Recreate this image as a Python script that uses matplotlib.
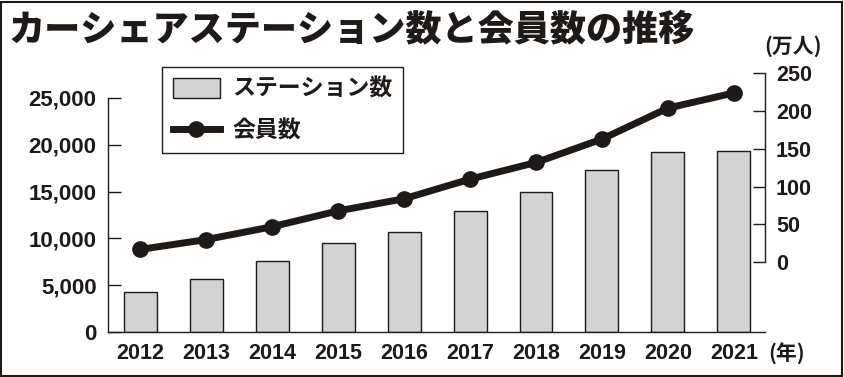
import numpy as np
import matplotlib
matplotlib.use("Agg")
import matplotlib.pyplot as plt
from matplotlib import font_manager as fm
from matplotlib.patches import Patch, Rectangle
from matplotlib.lines import Line2D

# ---- data ----
years = ["2012", "2013", "2014", "2015", "2016", "2017", "2018", "2019", "2020", "2021"]
stations = [4300, 5650, 7570, 9490, 10720, 12900, 14920, 17300, 19220, 19330]
members = [17, 30, 47, 68, 84, 110, 132, 163, 204, 224]
left_ticks = [0, 5000, 10000, 15000, 20000, 25000]
left_labels = ["0", "5,000", "10,000", "15,000", "20,000", "25,000"]
right_ticks = [0, 50, 100, 150, 200, 250]
right_labels = ["0", "50", "100", "150", "200", "250"]
title = "カーシェアステーション数と会員数の推移"
legend_labels = ["ステーション数", "会員数"]
right_unit = "(万人)"
x_unit = "(年)"


def has_font(name):
    try:
        fm.findfont(fm.FontProperties(family=name), fallback_to_default=False)
        return True
    except Exception:
        return False


if has_font("Liberation Sans Narrow"):
    NUM = ["Liberation Sans Narrow", "DejaVu Sans"]
    left_size, right_size, yr_size = 18, 18, 18.5
else:
    NUM = ["Liberation Sans", "DejaVu Sans"]
    left_size, right_size, yr_size = 16, 15.5, 15.5

CJK = ["Noto Sans CJK JP", "DejaVu Sans"]
INK = "#1e1a18"
BAR = "#d3d3d3"

fig = plt.figure(figsize=(8.45, 3.77), dpi=100)
ax = fig.add_axes([0.1275, 0.1186, 0.7778, 0.6870])
ax2 = ax.twinx()

x = np.arange(len(years))
ax.bar(x, stations, width=0.5, color=BAR, edgecolor=INK, linewidth=1.0, zorder=2)
ax2.plot(x, members, color=INK, lw=5, marker="o", ms=11, zorder=3)

ax.set_xlim(-0.49, 9.47)
ax.set_ylim(0, 27601)
ax2.set_ylim(-92.6, 250)

for s in ["top", "right"]:
    ax.spines[s].set_visible(False)
for s in ["top", "left", "bottom"]:
    ax2.spines[s].set_visible(False)
ax.spines["left"].set_bounds(0, 25000)
ax2.spines["right"].set_bounds(0, 250)
for sp in [ax.spines["left"], ax.spines["bottom"], ax2.spines["right"]]:
    sp.set_color(INK)
    sp.set_linewidth(1.0)

ax.set_xticks(x)
ax.set_xticklabels(years, fontfamily=NUM, fontweight="bold", fontsize=yr_size, color=INK)
ax.tick_params(axis="x", length=0, pad=8)

ax.set_yticks(left_ticks)
ax.set_yticklabels(left_labels, fontfamily=NUM, fontweight="bold", fontsize=left_size, color=INK)
ax.tick_params(axis="y", direction="in", length=9, width=1, color=INK, pad=8)

ax2.set_yticks(right_ticks)
ax2.set_yticklabels(right_labels, fontfamily=NUM, fontweight="bold", fontsize=right_size, color=INK)
ax2.tick_params(axis="y", direction="in", length=9, width=1, color=INK, pad=8)

handles = [
    Patch(facecolor=BAR, edgecolor=INK, linewidth=1.0),
    Line2D([], [], color=INK, lw=5, marker="o", ms=11),
]
leg = fig.legend(
    handles, legend_labels, loc="upper left",
    bbox_to_anchor=(0.1921, 0.8215), bbox_transform=fig.transFigure,
    frameon=True, fancybox=False, framealpha=1, edgecolor=INK,
    borderpad=0.45, borderaxespad=0, handlelength=2.05, handleheight=1.0,
    handletextpad=0.55, labelspacing=0.82, numpoints=1,
    prop=fm.FontProperties(family=CJK, weight="bold", size=16.5),
)
leg.get_frame().set_linewidth(1.0)
for t in leg.get_texts():
    t.set_color(INK)

fig.text(0.010, 1 - 29 / 377, title, ha="left", va="center",
         fontfamily=CJK, fontweight="heavy", fontsize=26, color=INK)
fig.text(0.9385, 1 - 46 / 377, right_unit, ha="center", va="center",
         fontfamily=CJK, fontweight="bold", fontsize=15, color=INK)
fig.text(0.9314, 1 - 354 / 377, x_unit, ha="center", va="center",
         fontfamily=CJK, fontweight="bold", fontsize=15, color=INK)

fig.patches.append(Rectangle((1.5 / 845, 1.5 / 377), 841 / 845, 374 / 377,
                             transform=fig.transFigure, fill=False,
                             edgecolor=INK, linewidth=1.5))

fig.savefig("out.png", dpi=100)
